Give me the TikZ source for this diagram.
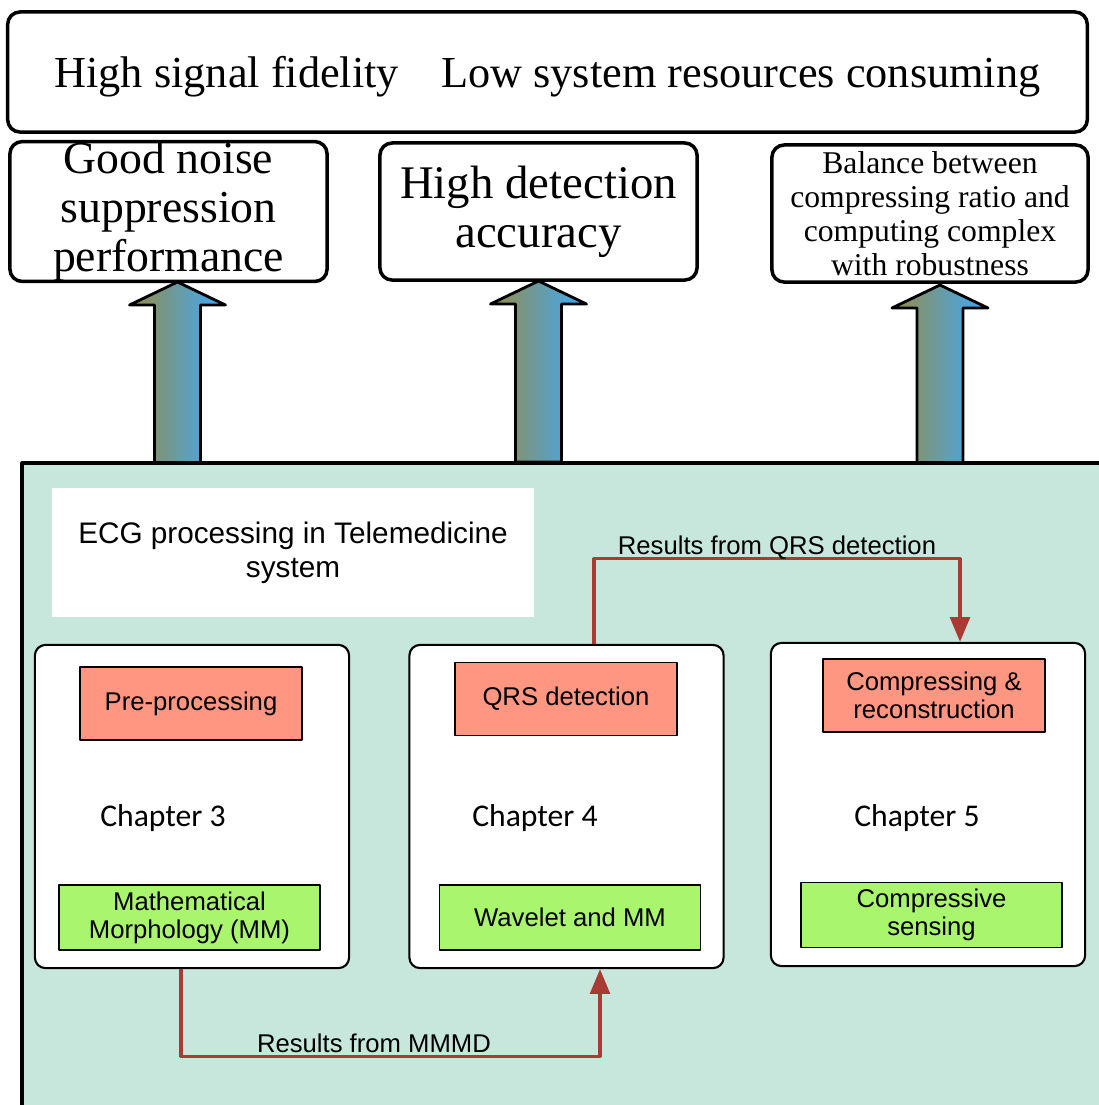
\documentclass[tikz,border=0pt]{standalone}
\usepackage{fontspec}
\setmainfont{Liberation Serif}
\setsansfont{Liberation Sans}
\newfontfamily\chapfont{Carlito}
\usetikzlibrary{arrows.meta}
\definecolor{panelgreen}{RGB}{199,231,221}
\definecolor{salmon}{RGB}{255,150,130}
\definecolor{limegreen}{RGB}{170,245,110}
\definecolor{resred}{RGB}{170,58,52}
\definecolor{olivegray}{RGB}{150,140,70}
\definecolor{skyblue}{RGB}{60,170,255}
\tikzset{
	goal/.style={draw, line width=1pt, rounded corners=3.5pt, fill=white, align=center, inner sep=0pt},
	chapbox/.style={draw, line width=.6pt, rounded corners=3pt, fill=white, minimum width=3.14cm, minimum height=3.23cm},
	task/.style={draw, line width=.5pt, fill=salmon, minimum width=2.22cm, minimum height=.73cm, align=center, inner sep=0pt, font=\sffamily\fontsize{7.3}{8}\selectfont},
	method/.style={task, fill=limegreen, minimum width=2.61cm, minimum height=.65cm},
	chaplabel/.style={font=\chapfont\fontsize{9}{10}\selectfont, inner sep=0pt},
	result/.style={draw=resred, line width=.9pt, -{Triangle[length=7pt,width=5.6pt]}},
	lbl/.style={font=\sffamily\fontsize{7.3}{8}\selectfont, inner sep=0pt},
}
\begin{document}
\begin{tikzpicture}[x=0.01cm, y=-0.01cm, line join=round]
	\useasboundingbox (0,0) rectangle (1099,1105);
	\clip (0,0) rectangle (1099,1105);
	\node[goal, minimum width=10.79cm, minimum height=1.2cm, text height=11.5pt, font=\fontsize{12.6}{14}\selectfont] (top) at (547.5,72)
		{High signal fidelity\hspace{12pt}Low system resources consuming};
	\node[goal, minimum width=3.17cm, minimum height=1.37cm, font=\fontsize{13}{14}\selectfont] (noise) at (168.5,211.5)
		{Good noise\\suppression\\performance};
	\node[goal, minimum width=3.17cm, minimum height=1.37cm, font=\fontsize{13.3}{14}\selectfont] (acc) at (538.5,211.5)
		{High detection\\accuracy};
	\node[goal, minimum width=3.16cm, minimum height=1.37cm, font=\fontsize{9}{9.7}\selectfont] (bal) at (930,213.5)
		{Balance between\\compressing ratio and\\computing complex\\with robustness};
	\foreach \cx/\tip/\base in {177.5/282/463, 538.5/281/462, 940/285/465}
		\shade[draw, line width=.8pt, left color=olivegray, right color=skyblue]
		(\cx,\tip) -- (\cx+48,\tip+23) -- (\cx+23,\tip+23) -- (\cx+23,\base)
		-- (\cx-23,\base) -- (\cx-23,\tip+23) -- (\cx-48,\tip+23) -- cycle;
	\fill[panelgreen] (22,463) rectangle (1120,1120);
	\draw[line width=.9pt] (22,1120) -- (22,463) -- (1120,463);
	\node[fill=white, minimum width=4.82cm, minimum height=1.29cm, align=center, font=\sffamily\fontsize{8.45}{9.7}\selectfont] (title) at (293,552.5)
		{ECG processing in Telemedicine\\system};
	\node[chapbox] (chap3) at (192,806.5) {};
	\node[chapbox] (chap4) at (566.5,806.5) {};
	\node[chapbox] (chap5) at (928,804.5) {};
	\node[task] (prep) at (191,703.5) {Pre-processing};
	\node[task] (qrs) at (566,699) {QRS detection};
	\node[task] (comp) at (934,695.5) {Compressing \&\\reconstruction};
	\node[chaplabel] (c3) at (163,818) {Chapter 3};
	\node[chaplabel] (c4) at (535,818) {Chapter 4};
	\node[chaplabel] (c5) at (917,818) {Chapter 5};
	\node[method] (mm) at (189.5,917.5) {Mathematical\\Morphology (MM)};
	\node[method] (wave) at (570,917.5) {Wavelet and MM};
	\node[method] (cs) at (931.5,915) {Compressive\\sensing};
	\coordinate (mmout) at ([xshift=-0.11cm]chap3.south);
	\coordinate (wavein) at ([xshift=0.335cm]chap4.south);
	\coordinate (qrsout) at ([xshift=0.275cm]chap4.north);
	\coordinate (csin) at ([xshift=0.32cm]chap5.north);
	\draw[result] (mmout) -- ++(0,87) -| (wavein);
	\draw[result] (qrsout) -- ++(0,-85) -| (csin);
	\node[lbl] (lmm) at (374,1043) {Results from MMMD};
	\node[lbl] (lqrs) at (777,548) {Results from QRS detection};
\end{tikzpicture}
\end{document}
